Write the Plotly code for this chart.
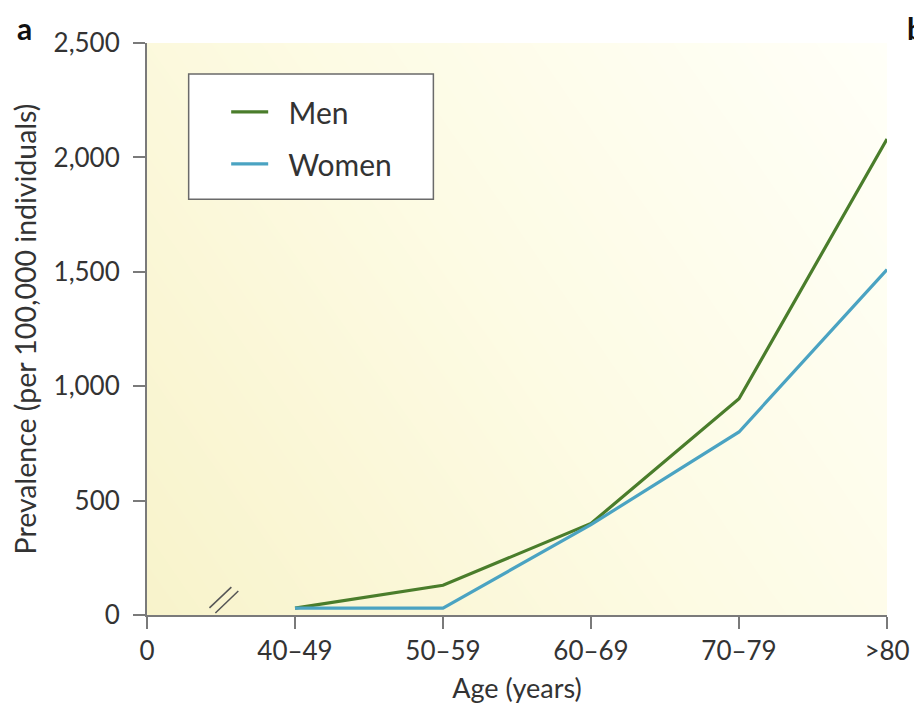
import numpy as np
import plotly.graph_objects as go

categories = ["40–49", "50–59", "60–69", "70–79", ">80"]
men = [30, 130, 400, 945, 2080]
women = [30, 30, 395, 800, 1510]
x_tick_labels = ["0"] + categories
y_tick_vals = [0, 500, 1000, 1500, 2000, 2500]
y_tick_text = ["0", "500", "1,000", "1,500", "2,000", "2,500"]

FONT = "Lato"
TXT = "#333333"
AX = "#7a7a7a"
MEN_C = "#4a7d2b"
WOMEN_C = "#4aa3c2"

xpos = list(range(1, len(categories) + 1))
xmax = len(categories)

# background gradient (style only)
gx = np.linspace(0, xmax, 40)
gy = np.linspace(0, 2500, 40)
GX, GY = np.meshgrid(gx / xmax, gy / 2500)
gz = np.clip(0.65 * (1 - GX) + 0.35 * (1 - GY), 0, 1)

fig = go.Figure()
fig.add_trace(go.Heatmap(
    x=gx, y=gy, z=gz, zsmooth="best", showscale=False, hoverinfo="skip",
    colorscale=[[0, "#fffff8"], [0.5, "#fdfbe4"], [1, "#f8f3cb"]],
    zmin=0, zmax=1, showlegend=False))

NB = "\u00a0\u00a0"
fig.add_trace(go.Scatter(x=xpos, y=men, mode="lines", name=NB + "Men",
                         line=dict(color=MEN_C, width=3.2), legendgroup="m"))
fig.add_trace(go.Scatter(x=xpos, y=women, mode="lines", name=NB + "Women",
                         line=dict(color=WOMEN_C, width=3.2), legendgroup="w"))

# axis break marks
for (x0, y0, x1, y1) in [(0.422, 31, 0.570, 122), (0.462, 9, 0.617, 105)]:
    fig.add_shape(type="line", xref="x", yref="y", x0=x0, y0=y0, x1=x1, y1=y1,
                  line=dict(color="#555555", width=1.5), layer="above")

# legend frame
fig.add_shape(type="rect", xref="paper", yref="paper",
              x0=0.0563, x1=0.387, y0=0.727, y1=0.946,
              fillcolor="white", line=dict(color="#6a6a6a", width=1.5), layer="above")

fig.add_annotation(text="<b>a</b>", xref="paper", yref="paper", x=-0.178, y=1.062,
                   xanchor="left", yanchor="top", showarrow=False,
                   font=dict(family=FONT, size=30, color="#111111"))
fig.add_annotation(text="<b>b</b>", xref="paper", yref="paper", x=1.024, y=1.062,
                   xanchor="left", yanchor="top", showarrow=False,
                   font=dict(family=FONT, size=30, color="#111111"))

fig.update_layout(
    width=914, height=713,
    margin=dict(l=137, r=31, t=35, b=106),
    paper_bgcolor="white", plot_bgcolor="white",
    font=dict(family=FONT, size=26, color=TXT),
    showlegend=True,
    legend=dict(x=0.107, y=0.925, xanchor="left", yanchor="top",
                bgcolor="rgba(0,0,0,0)", borderwidth=0,
                font=dict(family=FONT, size=30, color=TXT),
                itemwidth=37, tracegroupgap=10),
    xaxis=dict(range=[0, xmax], tickmode="array", tickvals=[0] + xpos,
               ticktext=x_tick_labels, showline=True, linecolor=AX, linewidth=2,
               ticks="outside", ticklen=12, tickwidth=2, tickcolor=AX,
               showgrid=False, zeroline=False,
               title=dict(text="Age (years)", standoff=14,
                          font=dict(family=FONT, size=27, color=TXT))),
    yaxis=dict(range=[0, 2500], tickmode="array", tickvals=y_tick_vals,
               ticktext=y_tick_text, showline=True, linecolor=AX, linewidth=2,
               ticks="outside", ticklen=12, tickwidth=2, tickcolor=AX,
               ticklabelstandoff=8,
               showgrid=False, zeroline=False,
               title=dict(text="Prevalence (per 100,000 individuals)", standoff=14,
                          font=dict(family=FONT, size=28.5, color=TXT))),
)

fig.write_html("out.html")
